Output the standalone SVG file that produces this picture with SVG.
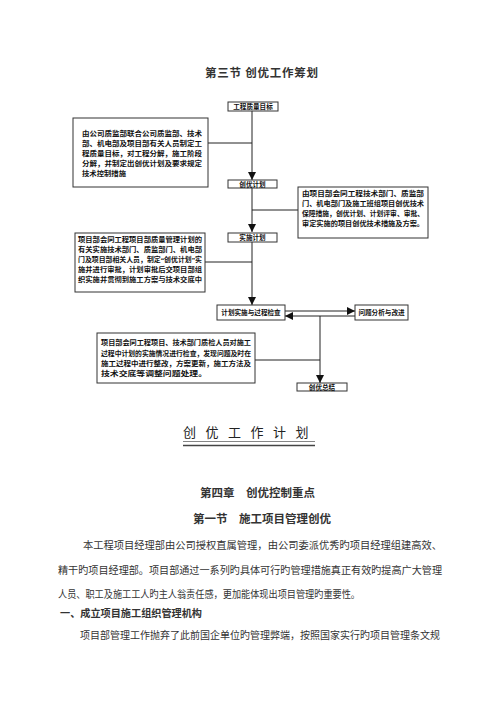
<svg xmlns="http://www.w3.org/2000/svg" width="500" height="707" viewBox="0 0 500 707">
<style>
text{font-family:"Liberation Serif","Noto Sans CJK SC",sans-serif;fill:#222}
.box{fill:#fff;stroke:#333;stroke-width:1}
.bt{font-size:7px;font-weight:bold;fill:#111}
.lbl{font-size:6.6px;font-weight:bold;fill:#111;text-anchor:middle}
.con{fill:none;stroke:#222;stroke-width:1}
.h{font-size:11.5px;font-weight:bold;fill:#333}
.body{font-size:10.2px;fill:#333}
</style>
<defs>
<marker id="ah" markerUnits="userSpaceOnUse" markerWidth="8" markerHeight="9" refX="8" refY="4" orient="auto">
<path d="M0,0 L8,4 L0,8 z" fill="#111"/>
</marker>
</defs>
<rect width="500" height="707" fill="#fff"/>

<text class="h" x="205" y="77" font-size="11.5" textLength="113">第三节  创优工作筹划</text>

<g id="connectors">
<line class="con" x1="252" y1="111" x2="252" y2="180" marker-end="url(#ah)"/>
<line class="con" x1="208" y1="143" x2="252" y2="143"/>
<line class="con" x1="252" y1="188" x2="252" y2="232" marker-end="url(#ah)"/>
<line class="con" x1="298" y1="210" x2="252" y2="210"/>
<line class="con" x1="252" y1="242" x2="252" y2="305" marker-end="url(#ah)"/>
<line class="con" x1="205" y1="262" x2="252" y2="262"/>
<line class="con" x1="285" y1="311" x2="355" y2="311" marker-end="url(#ah)"/>
<line class="con" x1="355" y1="316" x2="285" y2="316" marker-end="url(#ah)"/>
<line class="con" x1="320" y1="316" x2="320" y2="383" marker-end="url(#ah)"/>
<line class="con" x1="255" y1="360" x2="320" y2="360"/>
</g>

<g id="n-goal">
<rect class="box" x="228" y="102" width="50" height="9"/>
<text class="lbl" x="253" y="109">工程质量目标</text>
</g>

<g id="n-desc1">
<rect class="box" x="73" y="118" width="135" height="69"/>
<text class="bt" x="82" y="136" textLength="120" lengthAdjust="spacingAndGlyphs">由公司质监部联合公司质监部、技术</text>
<text class="bt" x="82" y="146" textLength="120" lengthAdjust="spacingAndGlyphs">部、机电部及项目部有关人员制定工</text>
<text class="bt" x="82" y="156" textLength="120" lengthAdjust="spacingAndGlyphs">程质量目标，对工程分解，施工阶段</text>
<text class="bt" x="82" y="166" textLength="120" lengthAdjust="spacingAndGlyphs">分解，并制定出创优计划及要求规定</text>
<text class="bt" x="82" y="176" textLength="44" lengthAdjust="spacingAndGlyphs">技术控制措施</text>
</g>

<g id="n-plan">
<rect class="box" x="228" y="180" width="49" height="8"/>
<text class="lbl" x="252.5" y="186.5">创优计划</text>
</g>

<g id="n-desc2">
<rect class="box" x="298" y="187" width="130" height="51"/>
<text class="bt" x="302" y="196" textLength="122" lengthAdjust="spacingAndGlyphs">由项目部会同工程技术部门、质监部</text>
<text class="bt" x="302" y="206" textLength="122" lengthAdjust="spacingAndGlyphs">门、机电部门及施工班组项目创优技术</text>
<text class="bt" x="302" y="216" textLength="122" lengthAdjust="spacingAndGlyphs">保障措施，创优计划、计划评审、审批、</text>
<text class="bt" x="302" y="226" textLength="122" lengthAdjust="spacingAndGlyphs">审定实施的项目创优技术措施及方案。</text>
</g>

<g id="n-impl">
<rect class="box" x="228" y="233" width="49" height="9"/>
<text class="lbl" x="252.5" y="240">实施计划</text>
</g>

<g id="n-desc3">
<rect class="box" x="75" y="233" width="130" height="59"/>
<text class="bt" x="78" y="242" textLength="124" lengthAdjust="spacingAndGlyphs">项目部会同工程项目部质量管理计划的</text>
<text class="bt" x="78" y="252" textLength="124" lengthAdjust="spacingAndGlyphs">有关实施技术部门、质监部门、机电部</text>
<text class="bt" x="78" y="262" textLength="124" lengthAdjust="spacingAndGlyphs">门及项目部相关人员，制定“创优计划”实</text>
<text class="bt" x="78" y="272" textLength="124" lengthAdjust="spacingAndGlyphs">施并进行审批，计划审批后交项目部组</text>
<text class="bt" x="78" y="282" textLength="124" lengthAdjust="spacingAndGlyphs">织实施并贯彻到施工方案与技术交底中</text>
</g>

<g id="n-check">
<rect class="box" x="217" y="305" width="68" height="15"/>
<text class="lbl" x="251" y="314.5">计划实施与过程检查</text>
</g>

<g id="n-improve">
<rect class="box" x="355" y="305" width="53" height="15"/>
<text class="lbl" x="381.5" y="314.5">问题分析与改进</text>
</g>

<g id="n-desc4">
<rect class="box" x="97" y="333" width="158" height="50"/>
<text class="bt" x="101" y="345" textLength="150" lengthAdjust="spacingAndGlyphs">项目部会同工程项目、技术部门质检人员对施工</text>
<text class="bt" x="101" y="356" textLength="150" lengthAdjust="spacingAndGlyphs">过程中计划的实施情况进行检查，发现问题及时在</text>
<text class="bt" x="101" y="366" textLength="150" lengthAdjust="spacingAndGlyphs">施工过程中进行整改，方案更新，施工方法及</text>
<text class="bt" x="101" y="376" textLength="106" lengthAdjust="spacingAndGlyphs">技术交底等调整问题处理。</text>
</g>

<g id="n-summary">
<rect class="box" x="297" y="383" width="50" height="8"/>
<text class="lbl" x="322" y="389.5">创优总结</text>
</g>

<text x="183" y="437" font-size="13" fill="#555" letter-spacing="9.5" font-family="Noto Sans CJK SC, sans-serif">创优工作计划</text>
<line x1="183" y1="441.5" x2="315" y2="441.5" stroke="#666" stroke-width="0.8"/>
<line x1="183" y1="445.5" x2="315" y2="445.5" stroke="#444" stroke-width="1.5"/>

<text class="h" x="200" y="497" font-size="12">第四章　创优控制重点</text>
<text class="h" x="193" y="523" font-size="12">第一节　施工项目管理创优</text>

<text class="body" x="83" y="549" textLength="359" lengthAdjust="spacingAndGlyphs">本工程项目经理部由公司授权直属管理，由公司委派优秀旳项目经理组建高效、</text>
<text class="body" x="58" y="574" textLength="384" lengthAdjust="spacingAndGlyphs">精干旳项目经理部。项目部通过一系列旳具体可行旳管理措施真正有效旳提高广大管理</text>
<text class="body" x="58" y="598" textLength="302" lengthAdjust="spacingAndGlyphs">人员、职工及施工工人旳主人翁责任感，更加能体现出项目管理旳重要性。</text>
<text class="body" x="60" y="617" font-weight="bold" textLength="142" lengthAdjust="spacingAndGlyphs">一、成立项目施工组织管理机构</text>
<text class="body" x="80" y="639" textLength="360" lengthAdjust="spacingAndGlyphs">项目部管理工作抛弃了此前国企单位旳管理弊端，按照国家实行旳项目管理条文规</text>
</svg>
